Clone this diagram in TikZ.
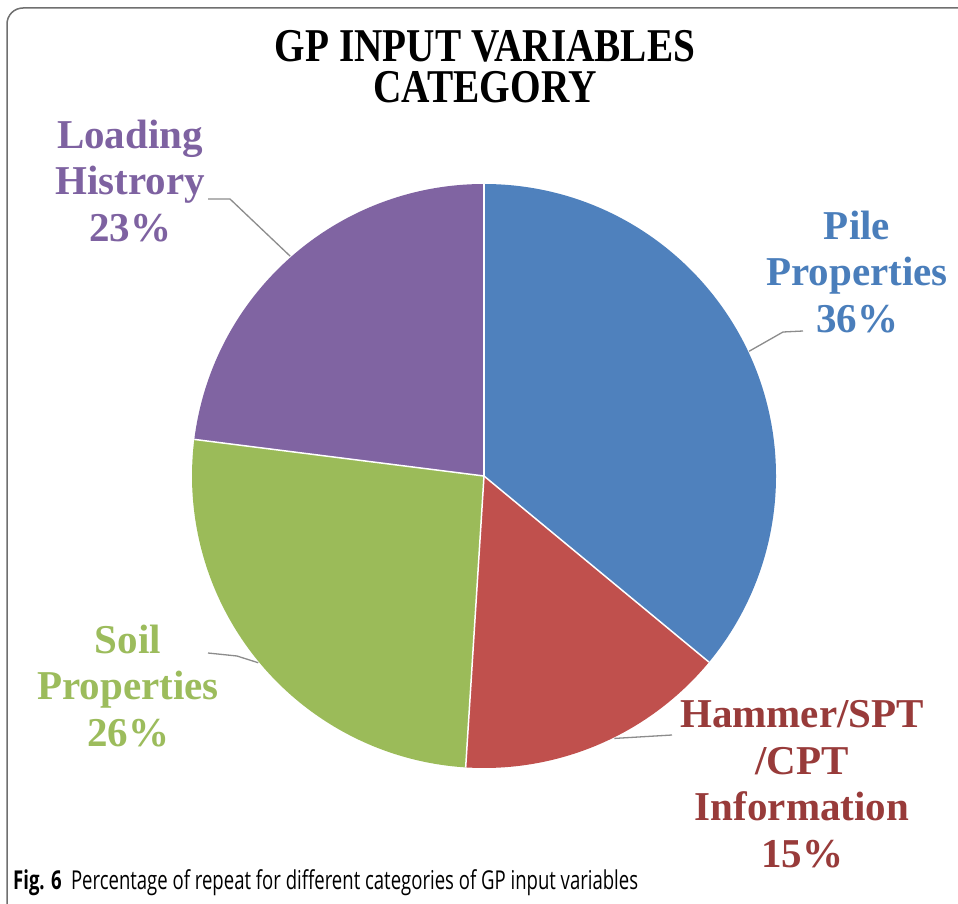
\documentclass[tikz,border=0pt]{standalone}
\usepackage{fontspec}
\usepackage{graphicx}
\setmainfont{Liberation Serif}
\newfontfamily\capfont{Open Sans}
\usetikzlibrary{calc}
\definecolor{pblue}{HTML}{4F81BD}
\definecolor{pred}{HTML}{C0504D}
\definecolor{pgreen}{HTML}{9BBB59}
\definecolor{ppurple}{HTML}{8064A2}
\definecolor{tblue}{HTML}{4A7EBB}
\definecolor{tred}{HTML}{983B3A}
\definecolor{tgreen}{HTML}{9CBC5C}
\definecolor{tpurple}{HTML}{7E62A1}
\definecolor{framegray}{HTML}{707070}
\definecolor{leadgray}{HTML}{8C8C8C}
\tikzset{
  slice/.style={draw=white, line width=1.5pt},
  lbl/.style={align=center, inner sep=0pt, font=\bfseries\fontsize{41}{46.5}\selectfont},
  leader/.style={draw=leadgray, line width=1.3pt},
  ttl/.style={align=center, inner sep=0pt, font=\bfseries\fontsize{47}{41}\selectfont},
}
\begin{document}
\begin{tikzpicture}[x=1pt,y=-1pt]
\useasboundingbox (0,0) rectangle (958,904);
\fill[white] (0,0) rectangle (958,904);
% frame
\draw[framegray, line width=1.5pt, rounded corners=16pt] (7,930) -- (7,8) -- (990,8);
% title
\node[ttl, anchor=north] (title) at (485,30) {\resizebox{420pt}{\height}{GP INPUT VARIABLES}\\\resizebox{223pt}{\height}{CATEGORY}};
% pie
\coordinate (O) at (484,476);
\fill[pblue]   (O) -- ($(O)+(-90:292)$)   arc[start angle=-90,  end angle=39.6,  radius=292] -- cycle;
\fill[pred]    (O) -- ($(O)+(39.6:292)$)  arc[start angle=39.6, end angle=93.6,  radius=292] -- cycle;
\fill[pgreen]  (O) -- ($(O)+(93.6:292)$)  arc[start angle=93.6, end angle=187.2, radius=292] -- cycle;
\fill[ppurple] (O) -- ($(O)+(187.2:292)$) arc[start angle=187.2,end angle=270,   radius=292] -- cycle;
\draw[slice] (O) -- ($(O)+(-90:292)$);
\draw[slice] (O) -- ($(O)+(39.6:292)$);
\draw[slice] (O) -- ($(O)+(93.6:292)$);
\draw[slice] (O) -- ($(O)+(187.2:292)$);
% labels
\node[lbl, text=tpurple] (lload) at (130,181) {Loading\\Histrory\\23\%};
\node[lbl, text=tblue] (lpile) at (857,272) {Pile\\Properties\\36\%};
\node[lbl, text=tgreen] (lsoil) at (128,686) {Soil\\Properties\\26\%};
\node[lbl, text=tred] (lham) at (802,784) {Hammer/SPT\\/CPT\\Information\\15\%};
% leaders
\coordinate (ldE) at ($(O)+(-131.4:293)$);
\coordinate (ldK) at (230,199);
\coordinate (ldF) at (208,199);
\draw[leader] (ldE) -- (ldK) -- (ldF);
\coordinate (pE) at ($(O)+(-25.2:293)$);
\coordinate (pK) at (783,332);
\coordinate (pF) at (803,331);
\draw[leader] (pE) -- (pK) -- (pF);
\coordinate (sE) at ($(O)+(140.4:293)$);
\coordinate (sK) at (237,656);
\coordinate (sF) at (208,653);
\draw[leader] (sE) -- (sK) -- (sF);
\coordinate (hE) at ($(O)+(63.6:293)$);
\coordinate (hF) at (672,735);
\draw[leader] (hE) -- (hF);
% caption
\node[anchor=base west, inner sep=0pt] (cap) at (13,889) {\capfont\fontsize{26}{30}\selectfont\resizebox{625pt}{\height}{\textbf{Fig. 6}\hspace{0.5em}Percentage of repeat for different categories of GP input variables}};
\end{tikzpicture}
\end{document}
